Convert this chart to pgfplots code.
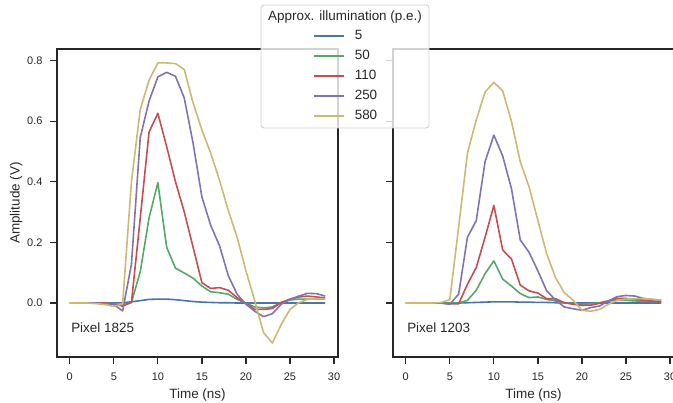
\documentclass[border=0pt]{standalone}
\usepackage{pgfplots}
\pgfplotsset{compat=1.18}
\usepackage{pgfplotstable}
\usepackage{fontspec}
\setmainfont{Liberation Sans}
\definecolor{cb}{HTML}{4C72B0}
\definecolor{cg}{HTML}{55A868}
\definecolor{cr}{HTML}{C44E52}
\definecolor{cp}{HTML}{8172B2}
\definecolor{cy}{HTML}{CCB974}
\definecolor{axc}{HTML}{262626}

\pgfplotstableread{
t p5 p50 p110 p250 p580
0 0 0 0 0 0
1 0 0 0 0 0
2 0 0 0 0 0
3 0 0 0 0 -0.002
4 0 0 0 -0.002 -0.005
5 0.000 -0.002 -0.004 -0.005 -0.011
6 0.001 -0.006 -0.010 -0.026 -0.003
7 0.004 0.002 0.002 0.128 0.400
8 0.008 0.103 0.280 0.546 0.638
9 0.012 0.281 0.564 0.666 0.735
10 0.013 0.397 0.626 0.746 0.792
11 0.013 0.184 0.516 0.761 0.792
12 0.011 0.115 0.400 0.748 0.790
13 0.008 0.099 0.300 0.676 0.770
14 0.005 0.082 0.184 0.527 0.660
15 0.003 0.056 0.067 0.350 0.571
16 0.002 0.037 0.048 0.256 0.494
17 0.001 0.034 0.051 0.189 0.405
18 0.001 0.029 0.042 0.090 0.305
19 0.000 0.012 0.018 0.029 0.217
20 0.000 0.000 -0.002 -0.004 0.106
21 0.000 -0.013 -0.021 -0.027 0.007
22 0.000 -0.016 -0.021 -0.045 -0.098
23 0.000 -0.013 -0.018 -0.035 -0.132
24 0.000 0.002 0.002 -0.004 -0.071
25 0.000 0.010 0.013 0.012 -0.021
26 0.000 0.013 0.020 0.023 0.001
27 0.000 0.013 0.023 0.032 0.012
28 0.000 0.013 0.020 0.031 0.014
29 0.000 0.013 0.017 0.023 0.014
}\leftdata

\pgfplotstableread{
t p5 p50 p110 p250 p580
0 0 0 0 0 0
1 0 0 0 0 0
2 0 0 0 0 0
3 0 0 0 0 0
4 0 0 0 0 0.002
5 0 0 -0.003 -0.004 0.011
6 0.000 0.000 -0.003 0.029 0.250
7 0.001 0.009 0.062 0.217 0.494
8 0.002 0.042 0.117 0.272 0.604
9 0.003 0.097 0.217 0.466 0.696
10 0.004 0.139 0.322 0.554 0.728
11 0.004 0.079 0.175 0.485 0.700
12 0.004 0.056 0.145 0.377 0.599
13 0.003 0.031 0.059 0.208 0.466
14 0.003 0.018 0.040 0.167 0.383
15 0.002 0.020 0.033 0.106 0.272
16 0.002 0.012 0.014 0.040 0.162
17 0.001 0.007 0.014 0.010 0.084
18 0.001 0.001 0.001 -0.013 0.034
19 0.000 -0.002 -0.004 -0.019 0.009
20 0.000 -0.004 -0.008 -0.024 -0.024
21 0.000 -0.002 -0.007 -0.015 -0.027
22 0.000 0.001 -0.001 -0.010 -0.021
23 0.000 0.007 0.007 0.007 -0.004
24 0.000 0.009 0.015 0.021 0.009
25 0.000 0.009 0.015 0.025 0.013
26 0.000 0.007 0.013 0.023 0.014
27 0.000 0.006 0.009 0.015 0.015
28 0.000 0.005 0.007 0.012 0.012
29 0.000 0.004 0.003 0.009 0.010
}\rightdata

\pgfplotsset{
  panel/.style={
    width=281bp, height=308bp, scale only axis,
    xmin=-1.45, xmax=30.45, ymin=-0.178, ymax=0.838,
    axis line style={axc, line width=1.25bp},
    tick align=outside, xtick pos=bottom, ytick pos=left,
    major tick length=7bp,
    every tick/.style={axc, line width=1.25bp},
    ticklabel style={font=\fontsize{11}{13}\selectfont, text=axc},
    xticklabel style={yshift=-5bp},
    yticklabel style={xshift=-4bp},
    label style={font=\fontsize{13.5}{16}\selectfont, text=axc},
    xlabel style={yshift=-2bp},
    ylabel style={yshift=-2bp},
    xlabel={Time (ns)},
    xtick={0,5,10,15,20,25,30},
    ytick={0,0.2,0.4,0.6,0.8},
    yticklabel style={/pgf/number format/.cd, fixed, fixed zerofill, precision=1},
    /pgf/number format/assume math mode=true,
    every axis plot/.append style={line width=1.6bp, line join=round},
  }
}

\begin{document}
\begin{tikzpicture}
\begin{axis}[panel, ylabel={Amplitude (V)}]
\addplot[cb] table[x=t, y=p5] {\leftdata};
\addplot[cg] table[x=t, y=p50] {\leftdata};
\addplot[cr] table[x=t, y=p110] {\leftdata};
\addplot[cp] table[x=t, y=p250] {\leftdata};
\addplot[cy] table[x=t, y=p580] {\leftdata};
\node[anchor=west, inner sep=0pt, font=\fontsize{13.5}{16}\selectfont, text=axc] at (axis description cs:0.05,0.096) {Pixel 1825};
\end{axis}
\begin{axis}[panel, xshift=336bp, yticklabel=\empty]
\addplot[cb] table[x=t, y=p5] {\rightdata};
\addplot[cg] table[x=t, y=p50] {\rightdata};
\addplot[cr] table[x=t, y=p110] {\rightdata};
\addplot[cp] table[x=t, y=p250] {\rightdata};
\addplot[cy] table[x=t, y=p580] {\rightdata};
\node[anchor=west, inner sep=0pt, font=\fontsize{13.5}{16}\selectfont, text=axc] at (axis description cs:0.05,0.096) {Pixel 1203};
\end{axis}
\draw[rounded corners=3bp, draw=black!18, line width=0.9bp, fill=white, fill opacity=0.8] (204bp,229bp) rectangle (372bp,352bp);
\node[font=\fontsize{13.5}{16}\selectfont, text=axc] at (288bp,340.3bp) {Approx. illumination (p.e.)};
\begin{axis}[width=281bp, height=308bp, scale only axis, hide axis,
  xmin=0, xmax=1, ymin=0, ymax=1,
  legend style={at={(axis description cs:0.9110,1.0617)}, anchor=north west,
    draw=none, fill=none, inner sep=0pt, row sep=8bp, column sep=10bp,
    font=\fontsize{13.5}{16}\selectfont, text=axc,
    nodes={inner sep=0pt, text height=9.5bp, text depth=2.5bp}},
  legend cell align=left,
  legend image code/.code={\draw[#1] (0bp,0bp) -- (30bp,0bp);}]
\addlegendimage{cb, line width=1.6bp}
\addlegendentry{5}
\addlegendimage{cg, line width=1.6bp}
\addlegendentry{50}
\addlegendimage{cr, line width=1.6bp}
\addlegendentry{110}
\addlegendimage{cp, line width=1.6bp}
\addlegendentry{250}
\addlegendimage{cy, line width=1.6bp}
\addlegendentry{580}
\end{axis}
\pgfresetboundingbox
\useasboundingbox (-57bp,-46bp) rectangle (616bp,357bp);
\end{tikzpicture}
\end{document}
